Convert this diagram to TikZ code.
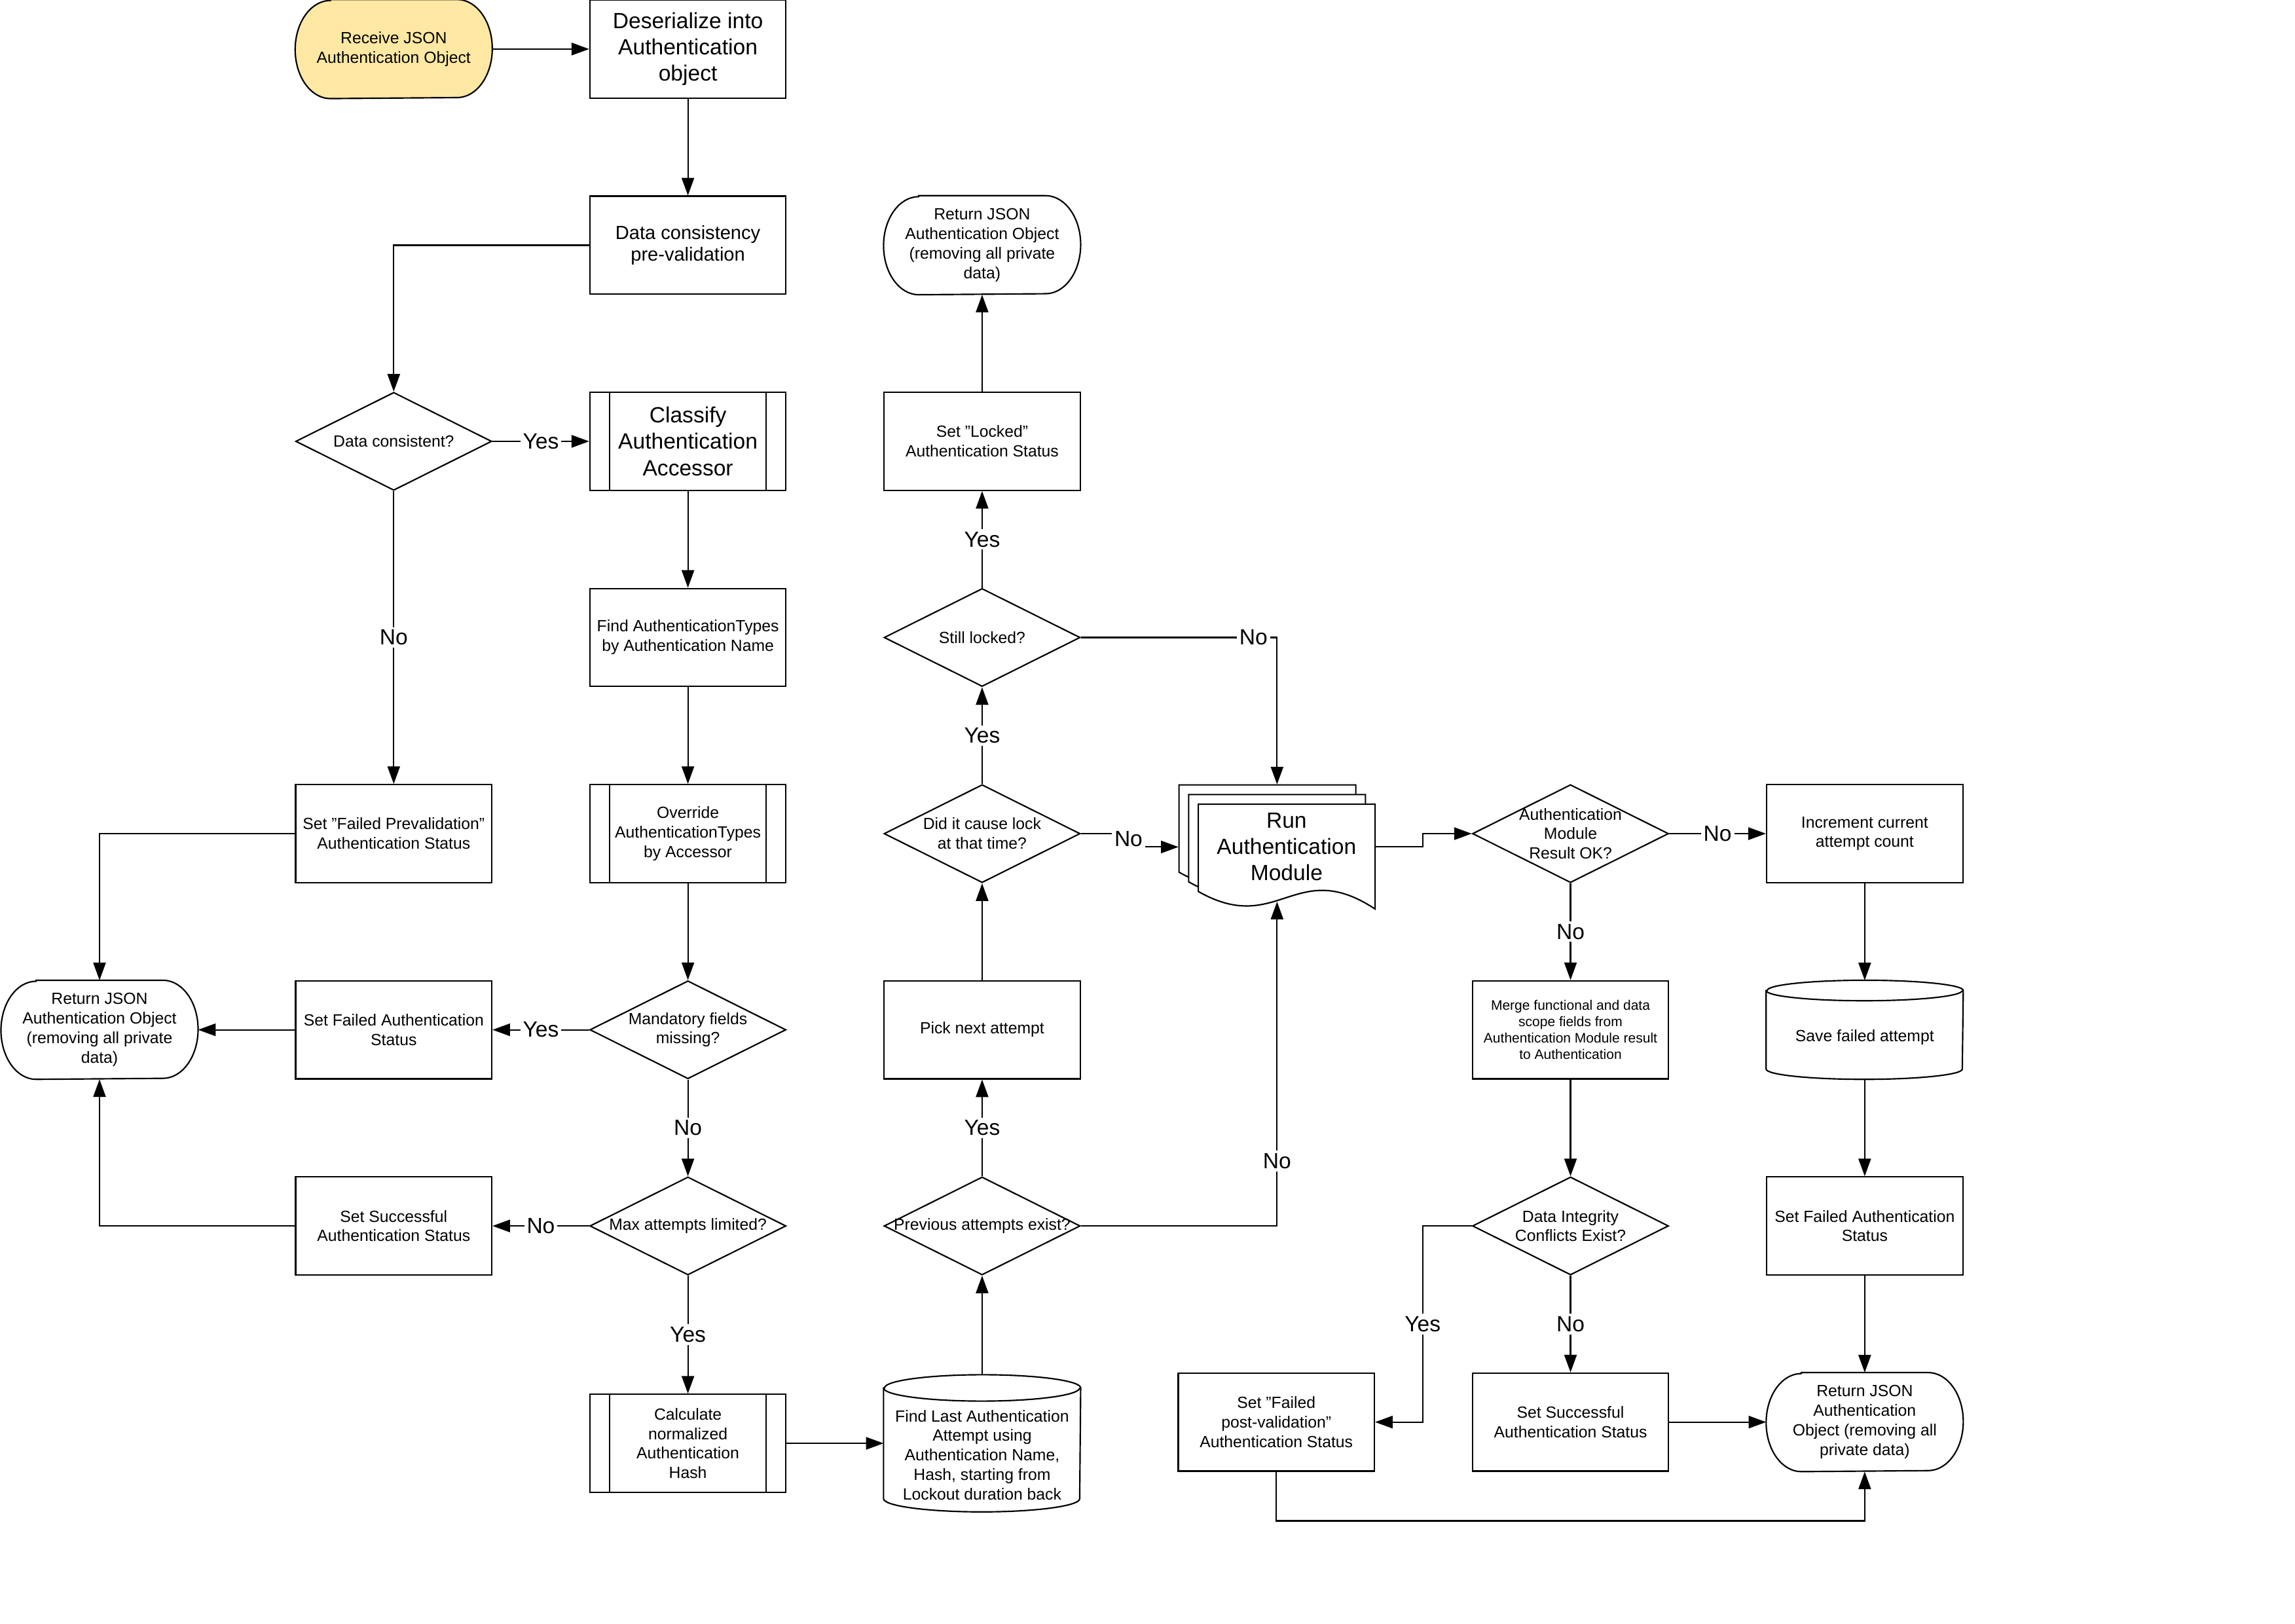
\documentclass[tikz,border=0pt]{standalone}
\usepackage{fontspec}
\setmainfont{Liberation Sans}
\usetikzlibrary{shapes.geometric, arrows.meta, calc, backgrounds}

\newcommand\fsSmall{\fontsize{6.3}{7.6}\selectfont}
\newcommand\fsMed{\fontsize{7.4}{8.6}\selectfont}
\newcommand\fsBig{\fontsize{8.55}{10.2}\selectfont}
\newcommand\fsTiny{\fontsize{5.35}{6.3}\selectfont}

\definecolor{startfill}{HTML}{FFE8A3}

% terminator outline around a node: flat top/bottom, elliptic ends
\newcommand\termframe[2]{%
  \draw[outline, fill=#2]
    ($(#1.north west)+(24,0)$) -- ($(#1.north east)+(-24,0)$)
    arc[start angle=90, end angle=-90, x radius=24, y radius=33.5]
    -- ($(#1.south west)+(24,0)$)
    arc[start angle=270, end angle=90, x radius=24, y radius=33.5] -- cycle;}

% database cylinder around a node, #2 = half height of the end ellipses
\newcommand\cylframe[2]{%
  \draw[outline, fill=white]
    ($(#1.north west)+(0,-#2)$) -- ($(#1.south west)+(0,#2)$)
    arc[start angle=180, end angle=360, x radius=67, y radius=#2]
    -- ($(#1.north east)+(0,-#2)$)
    arc[start angle=0, end angle=180, x radius=67, y radius=#2] -- cycle;
  \draw[outline] ($(#1.north west)+(0,-#2)$)
    arc[start angle=180, end angle=360, x radius=67, y radius=#2];}

% one sheet of a document stack: left x, top y, bottom-left y
\newcommand\docsheet[3]{%
  \draw[outline, fill=white] (#1,#2) -- (#1+120.8,#2) -- (#1+120.8,#3-12)
    .. controls (#1+66.4,#3+24) and (#1+54.4,#3-31) .. (#1,#3) -- cycle;}

\begin{document}
\begin{tikzpicture}[x=0.02cm, y=0.02cm,
  outline/.style={draw=black, line width=0.55pt},
  box/.style={outline, rectangle, minimum width=2.68cm, minimum height=1.34cm,
    inner sep=0pt, align=center, font=\fsSmall},
  predef/.style={box, path picture={
    \draw[line width=0.55pt] ([xshift=0.268cm]path picture bounding box.north west)
      -- ([xshift=0.268cm]path picture bounding box.south west);
    \draw[line width=0.55pt] ([xshift=-0.268cm]path picture bounding box.north east)
      -- ([xshift=-0.268cm]path picture bounding box.south east);}},
  decision/.style={outline, diamond, minimum width=2.68cm, minimum height=1.34cm,
    inner sep=0pt, aspect=2},
  qtext/.style={font=\fsSmall, align=center, inner sep=0pt},
  frame/.style={rectangle, minimum width=2.68cm, minimum height=1.34cm,
    inner sep=0pt, align=center, font=\fsSmall},
  lbl/.style={fill=white, font=\fsBig, inner sep=1pt},
  arr/.style={line width=0.55pt, -{Triangle[length=0.24cm, width=0.17cm]}}
]
\useasboundingbox (0,0) rectangle (1568,-1109.4);

% ---- column B / C : intake and pre-validation
\node[frame] (start) at (269,-33.5) {Receive JSON\\Authentication Object};
\node[box, font=\fsBig] (deser) at (470,-33.5) {Deserialize into\\Authentication\\object};
\node[box, font=\fsMed] (dcpv) at (470,-167.5) {Data consistency\\pre-validation};
\node[decision, label={[qtext]center:{Data consistent?}}] (dc) at (269,-301.5) {};
\node[predef, font=\fsBig] (classify) at (470,-301.5) {Classify\\Authentication\\Accessor};
\node[box] (findtypes) at (470,-435.5) {Find AuthenticationTypes\\by Authentication Name};
\node[predef] (override) at (470,-569.5) {Override\\AuthenticationTypes\\by Accessor};
\node[decision, label={[qtext]center:{Mandatory fields\\missing?}}] (mand) at (470,-703.5) {};
\node[decision, label={[qtext]center:{Max attempts limited?}}] (maxatt) at (470,-837.5) {};
\node[predef] (calc) at (470,-986) {Calculate\\normalized\\Authentication\\Hash};

\node[box] (sfp) at (269,-569.5) {Set "Failed Prevalidation"\\Authentication Status};
\node[box] (sfa) at (269,-703.5) {Set Failed Authentication\\Status};
\node[box] (sss) at (269,-837.5) {Set Successful\\Authentication Status};
\node[frame] (ret1) at (68,-703.5) {Return JSON\\Authentication Object\\(removing all private\\data)};

% ---- column D : attempt history and lockout
\node[frame, minimum height=1.86cm,
  label={[qtext, yshift=-0.16cm]center:{Find Last Authentication\\Attempt using\\Authentication Name,\\Hash, starting from\\Lockout duration back}}]
  (findlast) at (671,-986) {};
\node[decision, label={[qtext]center:{Previous attempts exist?}}] (prevexist) at (671,-837.5) {};
\node[box] (picknext) at (671,-703.5) {Pick next attempt};
\node[decision, label={[qtext]center:{Did it cause lock\\at that time?}}] (causelock) at (671,-569.5) {};
\node[decision, label={[qtext]center:{Still locked?}}] (stilllocked) at (671,-435.5) {};
\node[box] (setlocked) at (671,-301.5) {Set "Locked"\\Authentication Status};
\node[frame] (ret2) at (671,-167.5) {Return JSON\\Authentication Object\\(removing all private\\data)};

% ---- column E : authentication module (document stack)
\begin{scope}[on background layer]
  \docsheet{805.5}{-536.2}{-595.8}
  \docsheet{812.1}{-542.8}{-602.4}
  \docsheet{818.7}{-549.4}{-609}
\end{scope}
\node[frame, minimum height=1.696cm,
  label={[font=\fsBig, align=center, inner sep=0pt, xshift=0.13cm]center:{Run\\Authentication\\Module}}]
  (runmod) at (872.5,-578.6) {};
\coordinate (rmbot) at (872.5,-616);
\node[box] (sfpv) at (872,-971.5) {Set "Failed\\post-validation"\\Authentication Status};

% ---- columns F / G : result handling
\node[decision, label={[qtext]center:{Authentication\\Module\\Result OK?}}] (amok) at (1073,-569.5) {};
\node[box, font=\fsTiny] (merge) at (1073,-703.5) {Merge functional and data\\scope fields from\\Authentication Module result\\to Authentication};
\node[decision, label={[qtext]center:{Data Integrity\\Conflicts Exist?}}] (dic) at (1073,-837.5) {};
\node[box] (sss2) at (1073,-971.5) {Set Successful\\Authentication Status};

\node[box] (incr) at (1274,-569.5) {Increment current\\attempt count};
\node[frame, label={[qtext, yshift=-0.1cm]center:{Save failed attempt}}] (savefail) at (1274,-703.5) {};
\node[box] (sfa2) at (1274,-837.5) {Set Failed Authentication\\Status};
\node[frame] (ret3) at (1274,-971.5) {Return JSON\\Authentication\\Object (removing all\\private data)};

% ---- outlines of terminators and cylinders
\begin{scope}[on background layer]
  \termframe{start}{startfill}
  \termframe{ret1}{white}
  \termframe{ret2}{white}
  \termframe{ret3}{white}
  \cylframe{findlast}{9}
  \cylframe{savefail}{7}
\end{scope}

% ---- connectors
\draw[arr] (start) -- (deser);
\draw[arr] (deser) -- (dcpv);
\draw[arr] (dcpv.west) -| (dc.north);
\draw[arr] (dc.east) -- node[lbl]{Yes} (classify.west);
\draw[arr] (dc.south) -- node[lbl]{No} (sfp.north);
\draw[arr] (classify) -- (findtypes);
\draw[arr] (findtypes) -- (override);
\draw[arr] (override) -- (mand.north);
\draw[arr] (mand.west) -- node[lbl]{Yes} (sfa.east);
\draw[arr] (mand.south) -- node[lbl]{No} (maxatt.north);
\draw[arr] (maxatt.west) -- node[lbl]{No} (sss.east);
\draw[arr] (maxatt.south) -- node[lbl]{Yes} (calc.north);
\draw[arr] (sfp.west) -| (ret1.north);
\draw[arr] (sfa.west) -- (ret1.east);
\draw[arr] (sss.west) -| (ret1.south);
\draw[arr] (calc.east) -- (findlast.west);

\draw[arr] (findlast.north) -- (prevexist.south);
\draw[arr] (prevexist.north) -- node[lbl]{Yes} (picknext.south);
\draw[arr] (prevexist.east) -| node[lbl, pos=0.6]{No} (rmbot);
\draw[arr] (picknext.north) -- (causelock.south);
\draw[arr] (causelock.north) -- node[lbl]{Yes} (stilllocked.south);
\draw[arr] (causelock.east) -- (771,-569.5) |- (runmod.west);
\node[lbl] at (771,-573) {No};
\draw[arr] (stilllocked.north) -- node[lbl]{Yes} (setlocked.south);
\draw[arr] (stilllocked.east) -| node[lbl, pos=0.44]{No} (runmod.north);
\draw[arr] (setlocked.north) -- (ret2.south);

\draw[arr] (runmod.east) -- (972,-578.6) |- (amok.west);
\draw[arr] (amok.east) -- node[lbl]{No} (incr.west);
\draw[arr] (amok.south) -- node[lbl]{No} (merge.north);
\draw[arr] (merge) -- (dic.north);
\draw[arr] (dic.west) -- (972,-837.5) -- node[lbl]{Yes} (972,-971.5) -- (sfpv.east);
\draw[arr] (dic.south) -- node[lbl]{No} (sss2.north);
\draw[arr] (sss2) -- (ret3);
\draw[arr] (sfpv.south) -- (872,-1039) -| (ret3.south);

\draw[arr] (incr) -- (savefail);
\draw[arr] (savefail) -- (sfa2);
\draw[arr] (sfa2) -- (ret3);
\end{tikzpicture}
\end{document}
